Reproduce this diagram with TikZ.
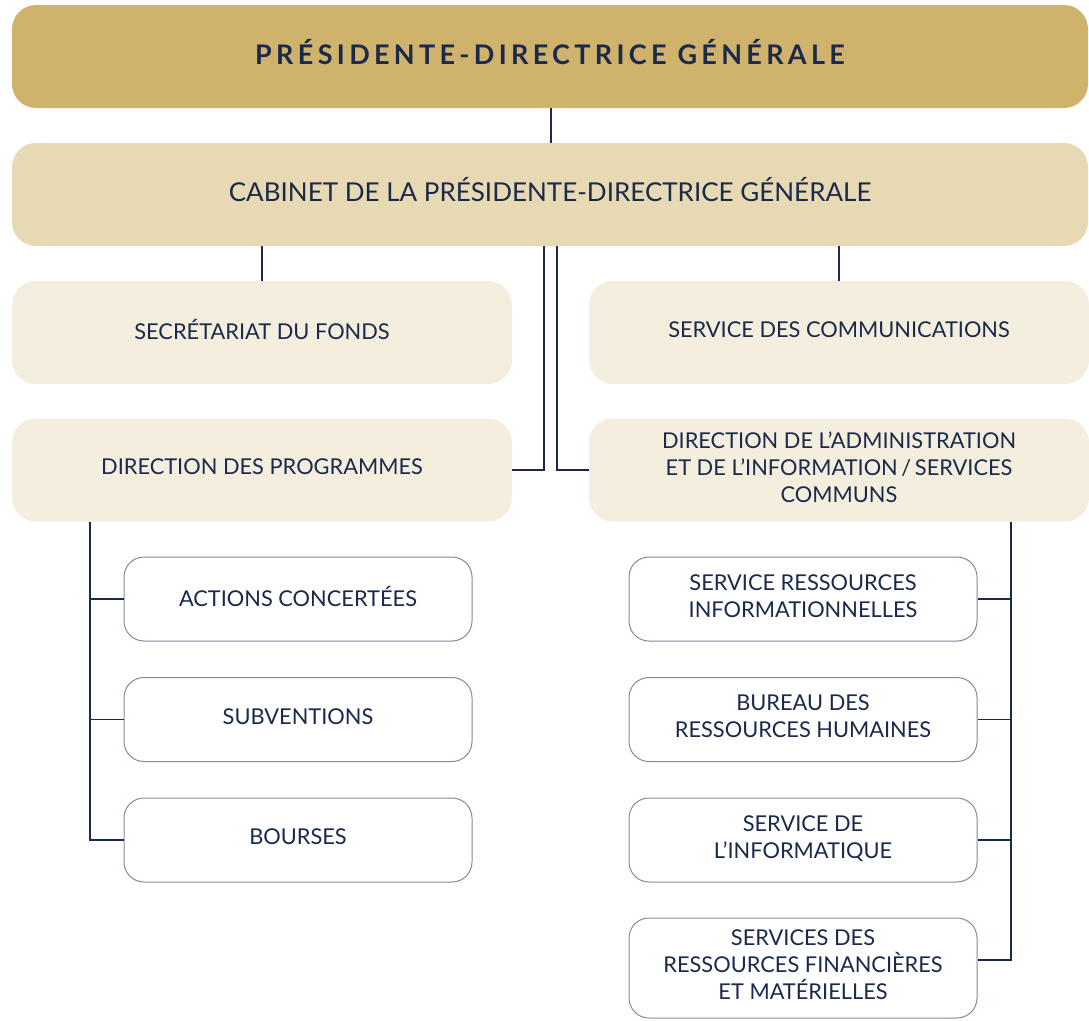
\documentclass[tikz,border=0pt]{standalone}
\usepackage{fontspec}
\setmainfont{Lato}
\newfontfamily\titlefont[LetterSpace=16]{Lato}
\definecolor{navy}{HTML}{1B2A4A}
\definecolor{gold}{HTML}{CFB26C}
\definecolor{sand}{HTML}{E6D9B3}
\definecolor{cream}{HTML}{F4EEDF}
\definecolor{boxline}{HTML}{7F8BA0}
\begin{document}
\begin{tikzpicture}[x=1pt,y=-1pt,
  lvl/.style={rounded corners=24pt,inner sep=0pt,align=center,text=navy},
  topbox/.style={lvl,fill=gold,minimum width=1076pt,minimum height=103pt,text depth=10pt,font=\titlefont\fontsize{27}{32}\selectfont\bfseries},
  cabbox/.style={lvl,fill=sand,minimum width=1076pt,minimum height=103pt,text depth=10pt,font=\fontsize{26}{31}\selectfont},
  unitbox/.style={lvl,fill=cream,minimum width=500pt,minimum height=103pt,text depth=6pt,font=\fontsize{21.8}{27}\selectfont},
  subbox/.style={rounded corners=20pt,draw=boxline,line width=1pt,fill=white,inner sep=0pt,align=center,text=navy,minimum width=348pt,minimum height=84pt,text depth=6pt,font=\fontsize{21.8}{27}\selectfont},
  link/.style={draw=navy,line width=1.4pt}]
\useasboundingbox (0,0) rectangle (1089,1020);
\node[topbox] (pdg) at (550,56.5) {PRÉSIDENTE-DIRECTRICE GÉNÉRALE};
\node[cabbox] (cab) at (550,194.5) {CABINET DE LA PRÉSIDENTE-DIRECTRICE GÉNÉRALE};
\node[unitbox] (sec) at (262,332.5) {SECRÉTARIAT DU FONDS};
\node[unitbox] (com) at (839,332.5) {SERVICE DES COMMUNICATIONS};
\node[unitbox] (dp) at (262,470) {DIRECTION DES PROGRAMMES};
\node[unitbox] (dai) at (839,470) {DIRECTION DE L’ADMINISTRATION\\ET DE L’INFORMATION\,/\,SERVICES\\COMMUNS};
\node[subbox] (act) at (298,599) {ACTIONS CONCERTÉES};
\node[subbox] (sub) at (298,719.5) {SUBVENTIONS};
\node[subbox] (bou) at (298,840) {BOURSES};
\node[subbox] (sri) at (803,599) {SERVICE RESSOURCES\\INFORMATIONNELLES};
\node[subbox] (brh) at (803,719.5) {BUREAU DES\\RESSOURCES HUMAINES};
\node[subbox] (inf) at (803,840) {SERVICE DE\\L’INFORMATIQUE};
\node[subbox,minimum height=100pt] (srf) at (803,968) {SERVICES DES\\RESSOURCES FINANCIÈRES\\ET MATÉRIELLES};
% connectors
\draw[link] (pdg.south -| 551,0) -- (cab.north -| 551,0);
\draw[link] (cab.south -| sec) -- (sec.north);
\draw[link] (cab.south -| com) -- (com.north);
\draw[link] (cab.south -| 544,0) |- (dp.east);
\draw[link] (cab.south -| 557,0) |- (dai.west);
\coordinate (lt) at (90,0);
\coordinate (rt) at (1011,0);
\draw[link] (dp.south -| lt) |- (bou.west);
\draw[link] (act.west) -- (act.west -| lt);
\draw[link] (sub.west) -- (sub.west -| lt);
\draw[link] (dai.south -| rt) |- ([yshift=8pt]srf.east);
\draw[link] (sri.east) -- (sri.east -| rt);
\draw[link] (brh.east) -- (brh.east -| rt);
\draw[link] (inf.east) -- (inf.east -| rt);
\end{tikzpicture}
\end{document}
